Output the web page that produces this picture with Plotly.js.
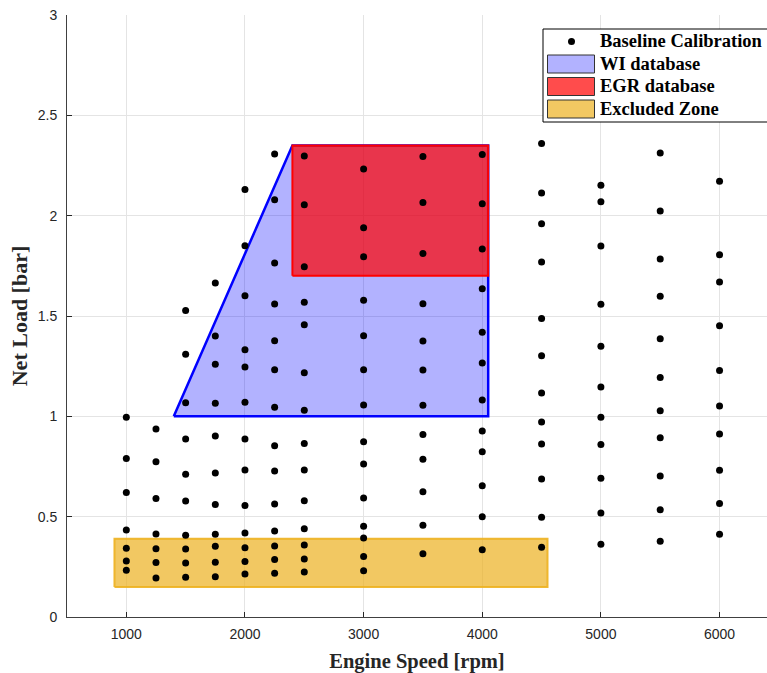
<!DOCTYPE html>
<html>
<head>
<meta charset="utf-8">
<script src="https://cdn.plot.ly/plotly-3.0.1.min.js"></script>
<style>html,body{margin:0;padding:0;background:#fff;}#chart{width:767px;height:673px;}</style>
</head>
<body>
<div id="chart"></div>
<script>
// Baseline calibration points: engine speed columns and their net load values
const speeds = [1000, 1250, 1500, 1750, 2000, 2250, 2500, 3000, 3500, 4000, 4500, 5000, 5500, 6000];
const load1000 = [0.995, 0.79, 0.62, 0.433, 0.342, 0.279, 0.233];
const load1250 = [0.937, 0.774, 0.591, 0.413, 0.340, 0.271, 0.194];
const load1500 = [1.528, 1.31, 1.068, 0.887, 0.712, 0.578, 0.407, 0.339, 0.269, 0.198];
const load1750 = [1.664, 1.40, 1.26, 1.065, 0.902, 0.717, 0.561, 0.412, 0.352, 0.273, 0.201];
const load2000 = [2.131, 1.85, 1.601, 1.332, 1.246, 1.07, 0.887, 0.732, 0.556, 0.418, 0.345, 0.276, 0.214];
const load2250 = [2.307, 2.079, 1.764, 1.56, 1.377, 1.232, 1.045, 0.854, 0.727, 0.563, 0.428, 0.354, 0.287, 0.218];
const load2500 = [2.297, 2.054, 1.745, 1.568, 1.457, 1.217, 1.03, 0.865, 0.732, 0.579, 0.44, 0.359, 0.289, 0.224];
const load3000 = [2.232, 1.94, 1.795, 1.579, 1.402, 1.232, 1.056, 0.873, 0.762, 0.593, 0.452, 0.394, 0.302, 0.231];
const load3500 = [2.295, 2.066, 1.812, 1.561, 1.375, 1.231, 1.055, 0.910, 0.786, 0.624, 0.457, 0.315];
const load4000 = [2.305, 2.059, 1.834, 1.636, 1.419, 1.266, 1.081, 0.927, 0.824, 0.654, 0.50, 0.335];
const load4500 = [2.36, 2.113, 1.96, 1.769, 1.488, 1.302, 1.116, 0.972, 0.862, 0.688, 0.497, 0.347];
const load5000 = [2.152, 2.069, 1.849, 1.558, 1.349, 1.146, 0.995, 0.860, 0.691, 0.518, 0.362];
const load5500 = [2.312, 2.023, 1.784, 1.598, 1.387, 1.194, 1.028, 0.893, 0.703, 0.535, 0.377];
const load6000 = [2.171, 1.805, 1.669, 1.451, 1.229, 1.051, 0.912, 0.731, 0.565, 0.412];
const loadColumns = [load1000, load1250, load1500, load1750, load2000, load2250, load2500,
                     load3000, load3500, load4000, load4500, load5000, load5500, load6000];

// Region outlines
const wiSpeed = [1400, 2400, 4050, 4050, 1400];
const wiLoad = [1.0, 2.35, 2.35, 1.0, 1.0];
const egrSpeed = [2400, 4050, 4050, 2400, 2400];
const egrLoad = [1.7, 1.7, 2.35, 2.35, 1.7];
const exclSpeed = [900, 4550, 4550, 900, 900];
const exclLoad = [0.15, 0.15, 0.39, 0.39, 0.15];

const seriesNames = ['Baseline Calibration', 'WI database', 'EGR database', 'Excluded Zone'];
const xTicks = [1000, 2000, 3000, 4000, 5000, 6000];
const yTicks = [0, 0.5, 1, 1.5, 2, 2.5, 3];

const wiFill = 'rgba(0,0,255,0.3)';
const egrFill = 'rgba(255,0,0,0.7)';
const exclFill = 'rgba(237,177,32,0.7)';

const ptX = [], ptY = [];
speeds.forEach((s, i) => loadColumns[i].forEach(v => { ptX.push(s); ptY.push(v); }));

const traces = [
  {x: wiSpeed, y: wiLoad, type: 'scatter', mode: 'lines', fill: 'toself',
   fillcolor: wiFill, line: {color: '#0000ff', width: 2.5}, name: seriesNames[1], hoverinfo: 'skip'},
  {x: egrSpeed, y: egrLoad, type: 'scatter', mode: 'lines', fill: 'toself',
   fillcolor: egrFill, line: {color: '#ff0000', width: 2}, name: seriesNames[2], hoverinfo: 'skip'},
  {x: exclSpeed, y: exclLoad, type: 'scatter', mode: 'lines', fill: 'toself',
   fillcolor: exclFill, line: {color: 'rgba(237,177,32,0.9)', width: 2}, name: seriesNames[3], hoverinfo: 'skip'},
  {x: ptX, y: ptY, type: 'scatter', mode: 'markers', marker: {color: '#000', size: 7},
   name: seriesNames[0]}
];

// Legend drawn in MATLAB style (pixel positions converted to paper coordinates)
const L = 67, T = 15, W = 700, H = 602;
const px = v => (v - L) / W;
const py = v => (T + H - v) / H;
const rowY = [41.5, 64, 86.5, 109];
const shapes = [
  {type: 'rect', xref: 'paper', yref: 'paper', x0: px(543), x1: px(800), y0: py(122), y1: py(29),
   fillcolor: '#fff', line: {color: '#000', width: 1}, layer: 'above'},
  {type: 'circle', xref: 'paper', yref: 'paper', xsizemode: 'pixel', ysizemode: 'pixel',
   xanchor: px(571.5), yanchor: py(rowY[0]), x0: -3.5, x1: 3.5, y0: -3.5, y1: 3.5,
   fillcolor: '#000', line: {color: '#000', width: 0}, layer: 'above'}
];
[wiFill, egrFill, exclFill].forEach((c, i) => {
  shapes.push({type: 'rect', xref: 'paper', yref: 'paper', x0: px(547.5), x1: px(594.5),
    y0: py(rowY[i + 1] + 9), y1: py(rowY[i + 1] - 9),
    fillcolor: c, line: {color: '#333', width: 1}, layer: 'above'});
});
const annotations = seriesNames.map((n, i) => ({
  text: n, xref: 'paper', yref: 'paper', x: px(598), y: py(rowY[i]), xanchor: 'left', yanchor: 'middle',
  showarrow: false, font: {family: 'Liberation Serif, Times New Roman, serif', size: 18.5, color: '#000', weight: 'bold'}
}));

const axisCommon = {
  showline: true, linecolor: '#404040', linewidth: 1, mirror: false,
  ticks: 'inside', ticklen: 5, tickcolor: '#262626', tickwidth: 1,
  showgrid: true, gridcolor: '#e4e4e4', gridwidth: 1, zeroline: false,
  tickfont: {family: 'Liberation Sans, Arial, sans-serif', size: 14, color: '#262626'}
};

const layout = {
  width: 767, height: 673,
  margin: {l: L, r: 0, t: T, b: 56},
  paper_bgcolor: '#fff', plot_bgcolor: '#fff',
  showlegend: false,
  shapes: shapes,
  annotations: annotations,
  xaxis: Object.assign({}, axisCommon, {
    range: [500, 6400], tickvals: xTicks, ticktext: xTicks.map(String), ticklabelstandoff: 4,
    title: {text: 'Engine Speed [rpm]', standoff: 12,
      font: {family: 'Liberation Serif, Times New Roman, serif', size: 20.5, color: '#262626', weight: 'bold'}}
  }),
  yaxis: Object.assign({}, axisCommon, {
    range: [0, 3], tickvals: yTicks, ticktext: yTicks.map(String), ticklabelstandoff: 6,
    title: {text: 'Net Load [bar]', standoff: 4,
      font: {family: 'Liberation Serif, Times New Roman, serif', size: 22, color: '#262626', weight: 'bold'}}
  })
};

Plotly.newPlot('chart', traces, layout, {displayModeBar: false, staticPlot: true});
</script>
</body>
</html>
